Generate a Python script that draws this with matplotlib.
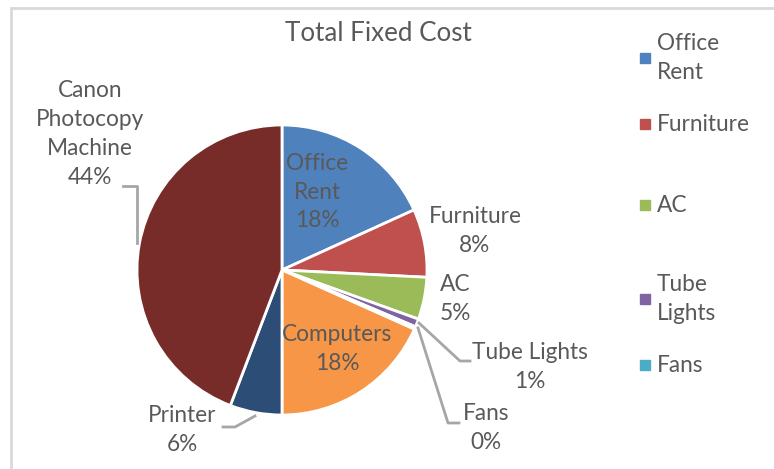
import matplotlib.pyplot as plt
from matplotlib.patches import Rectangle

# data (percent of total fixed cost)
categorias = ["Office Rent", "Furniture", "AC", "Tube Lights", "Fans",
              "Computers", "Printer", "Canon Photocopy Machine"]
valores = [18.2, 7.6, 4.7, 0.9, 0.3, 18.3, 5.8, 44.2]
cores = ["#4F81BD", "#C0504D", "#9BBB59", "#8064A2", "#4BACC6",
         "#F79646", "#2C4D75", "#772C2A"]
rotulos = ["Office\nRent", "Furniture", "AC", "Tube Lights", "Fans",
           "Computers", "Printer", "Canon\nPhotocopy\nMachine"]
legenda = ["Office\nRent", "Furniture", "AC", "Tube\nLights", "Fans"]

plt.rcParams['font.family'] = ['Lato', 'DejaVu Sans']
CINZA = "#595959"
H = 469

fig = plt.figure(figsize=(7.74, 4.69), dpi=100)
ax = fig.add_axes([0, 0, 1, 1])

ax.pie(valores, colors=cores, startangle=90, counterclock=False,
       center=(282, H - 270), radius=145,
       wedgeprops=dict(edgecolor='white', linewidth=2))
ax.set_xlim(0, 774)
ax.set_ylim(0, H)
ax.axis('off')

# chart border (only top/left visible)
fig.patches.append(Rectangle((11 / 774, -0.1), 1.2, (H - 8) / H + 0.1,
                             transform=fig.transFigure, fill=False,
                             edgecolor="#D9D9D9", lw=2))

# label positions (pixels from top-left)
pos = [(317, 192), (475, 231), (455, 299), (530, 367), (486, 428),
       (337, 349), (182, 430), (90, 134)]
for rot, v, (x, y) in zip(rotulos, valores, pos):
    ax.text(x, H - y, f"{rot}\n{round(v):.0f}%", ha='center', va='center',
            fontsize=16.3, color=CINZA, linespacing=1.47)

# leader lines
guias = [
    [(419, 323), (460, 361), (470, 361)],
    [(418, 328), (448, 423), (459, 423)],
    [(255, 416), (235, 427), (223, 427)],
    [(137, 243), (137, 186), (123, 186)],
]
for g in guias:
    ax.plot([p[0] for p in g], [H - p[1] for p in g], color="#A6A6A6", lw=2)

ax.text(378, H - 33, "Total Fixed Cost", ha='center', va='center',
        fontsize=18.7, color=CINZA)

# legend
leg_y = [58, 124, 205, 299, 365]
for nome, cor, y in zip(legenda, cores, leg_y):
    ax.add_patch(Rectangle((640, H - y - 5), 10, 10, color=cor))
    ax.text(657, H - y, nome, ha='left', va='center', fontsize=16.3,
            color=CINZA, linespacing=1.47)

fig.savefig("out.png", dpi=100)
